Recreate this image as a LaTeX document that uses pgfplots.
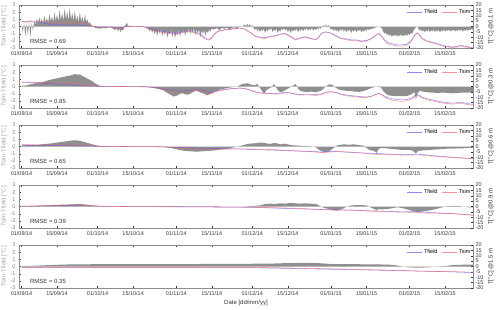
\documentclass[border=0pt]{standalone}
\usepackage{pgfplots}
\pgfplotsset{compat=1.18}
\usepackage{fontspec}
\setmainfont{Liberation Sans}
\definecolor{areagray}{gray}{0.56}
\definecolor{darklab}{gray}{0.2}
\definecolor{midlab}{gray}{0.5}
\definecolor{lightlab}{gray}{0.65}
\definecolor{framecol}{gray}{0.55}
\definecolor{tfield}{RGB}{90,90,255}
\definecolor{tsim}{RGB}{255,100,100}
\newcommand{\tfont}{\fontsize{5.5}{6}\selectfont}
\newcommand{\lfont}{\fontsize{6}{7}\selectfont}
\pgfplotsset{
  base/.style={scale only axis, width=454bp, height=43bp, xmin=-1, xmax=178,
    xtick={0,14,30,44,61,75,91,105,122,136,153,167},
    tick align=inside, major tick length=2bp,
    tick label style={font=\tfont},
    /pgf/number format/assume math mode=true,
    every tick/.style={darklab, line width=0.3pt},
    axis line style={framecol, line width=0.4pt},
  },
  leftax/.style={base, ymin=-3, ymax=3, ytick={-3,-2,-1,0,1,2,3},
    xtick pos=both, ytick pos=left,
    xticklabels={01/09/14,15/09/14,01/10/14,15/10/14,01/11/14,15/11/14,01/12/14,15/12/14,01/01/15,15/01/15,01/02/15,15/02/15},
    xticklabel style={text=darklab},
    yticklabel style={text=midlab},
    ylabel={Tsim-Tfield [°C]},
    ylabel style={text=lightlab, font=\lfont, yshift=-3bp},
  },
  rightax/.style={base, ymin=-20, ymax=20, ytick={-20,-15,...,20},
    axis y line*=right, axis x line=none, xticklabels={},
    yticklabel style={text=darklab, xshift=-1bp},
    ylabel style={text=darklab, font=\lfont, yshift=2bp},
    legend style={draw=none, fill=none, at={(1.0,0.95)}, anchor=north east,
      font=\tfont, legend columns=2, inner sep=0.5bp,
      /tikz/every even column/.append style={column sep=2bp}},
    legend image code/.code={\draw[#1] (0bp,0bp) -- (15bp,0bp);},
  },
  fld/.style={tfield, opacity=0.7, line width=0.55pt, no marks},
  sim/.style={tsim, opacity=0.7, line width=0.55pt, no marks},
  area/.style={fill=areagray, draw=none, no marks},
}
\begin{document}
\begin{tikzpicture}
%================ Panel 1 (0.1 m)
\begin{axis}[leftax, at={(0,0)}]
\addplot[area] coordinates {(0,0.3)(0.5,-0.8)(1,0.5)(1.5,-1.4)(2,0.4)(2.5,-1.2)(3,0.6)(3.5,-1.5)(4,0.5)(4.5,-0.6)(5,0.7)
(5.5,0.3)(6,1.0)(6.5,0.4)(7,1.3)(7.5,0.5)(8,1.1)(8.5,0.4)(9,1.5)(9.5,0.6)(10,1.2)(10.5,0.5)(11,1.8)(11.5,0.7)(12,1.4)(12.5,0.6)(13,2.0)(13.5,0.8)(14,1.6)(14.5,0.7)(15,2.3)(15.5,0.9)(16,1.9)(16.5,0.8)(17,2.5)(17.5,1.0)(18,2.1)(18.5,0.8)(19,2.6)(19.5,0.9)(20,1.9)(20.5,0.7)(21,2.2)(21.5,0.8)(22,1.5)(22.5,0.6)(23,2.0)(23.5,0.7)(24,1.4)(24.5,0.5)(25,1.7)(25.5,0.6)(26,1.0)(26.5,0.4)(27,0.6)(27.5,0.2)(28,0.1)
(29,-0.2)(30,-0.25)(31,-0.3)(32,-0.2)(33,-0.25)(34,-0.15)(35,-0.1)(36,-0.3)(37,-0.5)(37.5,-0.2)(38,-0.7)(38.5,-0.3)(39,-0.8)(39.5,-0.4)(40,-0.6)(40.5,-0.1)(41,0.2)(41.5,0.5)(42,0.1)(43,0.05)(44,0.0)(46,0.0)(48,-0.05)(49,-0.1)
(50,-0.3)(50.5,-0.7)(51,-0.3)(51.5,-0.9)(52,-0.4)(52.5,-1.1)(53,-0.5)(53.5,-1.3)(54,-0.5)(54.5,-1.0)(55,-0.4)(55.5,-1.4)(56,-0.6)(56.5,-1.2)(57,-0.5)(57.5,-1.6)(58,-0.7)(58.5,-1.1)(59,-0.5)(59.5,-1.5)(60,-0.6)(60.5,-1.7)(61,-0.7)(61.5,-1.2)(62,-0.5)(62.5,-1.4)(63,-0.6)(63.5,-1.0)(64,-0.4)(64.5,-1.3)(65,-0.5)(65.5,-0.9)(66,-0.3)(66.5,-1.1)(67,-0.4)(67.5,-0.8)(68,-0.3)(68.5,-1.2)(69,-0.5)(69.5,-0.9)(70,-0.4)(70.5,-1.5)(71,-0.6)(71.5,-1.0)(72,-0.5)(72.5,-1.3)(73,-0.6)(73.5,-0.9)(74,-0.4)(74.5,-0.7)(75,-0.3)
(76,-0.4)(77,-0.2)(78,-0.5)(79,-0.2)(80,-0.3)(81,-0.15)(82,-0.4)(83,-0.2)(84,-0.1)(85,-0.3)(86,0.1)(87,-0.1)(88,0.3)(88.5,0.0)(89,0.4)(89.5,0.1)(90,0.3)(90.5,0.0)(91,0.2)(91.5,-0.2)
(92,-0.5)(92.5,-0.2)(93,-0.7)(93.5,-0.3)(94,-0.8)(94.5,-0.4)(95,-0.6)(95.5,-0.3)(96,-0.9)(96.5,-0.4)(97,-0.7)(97.5,-0.3)(98,-0.5)(98.5,-0.2)(99,-0.8)(99.5,-0.4)(100,-0.6)(100.5,-0.3)(101,-0.9)(101.5,-0.5)(102,-0.7)(102.5,-0.3)(103,-0.5)(103.5,-0.2)(104,-0.6)(104.5,-0.3)(105,-0.8)(105.5,-0.4)(106,-0.9)(106.5,-0.5)(107,-0.7)(107.5,-0.4)(108,-0.6)(108.5,-0.3)(109,-0.8)(109.5,-0.4)(110,-0.6)(110.5,-0.3)(111,-0.7)(111.5,-0.3)(112,-0.5)(112.5,-0.2)(113,-0.6)(113.5,-0.3)(114,-0.5)(114.5,-0.2)(115,-0.6)(115.5,-0.3)(116,-0.5)(116.5,-0.2)(117,-0.4)(117.5,-0.1)(118,-0.3)(118.5,0.0)(119,0.2)(119.5,-0.1)(120,0.3)(120.5,0.0)(121,0.2)(121.5,-0.2)(122,-0.4)
(122.5,-0.3)(123,-0.6)(123.5,-0.3)(124,-0.7)(124.5,-0.4)(125,-0.8)(125.5,-0.4)(126,-0.6)(126.5,-0.3)(127,-0.7)(127.5,-0.4)(128,-0.8)(128.5,-0.5)(129,-0.6)(129.5,-0.4)(130,-0.9)(130.5,-0.5)(131,-0.7)(131.5,-0.4)(132,-0.8)(132.5,-0.5)(133,-0.6)(133.5,-0.4)(134,-0.8)(134.5,-0.5)(135,-0.7)(135.5,-0.4)(136,-0.6)(136.5,-0.3)(137,-0.5)(137.5,-0.3)(138,-0.4)(138.5,-0.2)(139,-0.3)(139.5,-0.1)(140,-0.1)(141,0.0)(142,-0.2)(142.5,-0.6)
(143,-1.0)(143.5,-0.8)(144,-1.2)(144.5,-1.0)(145,-1.3)(145.5,-1.1)(146,-1.4)(146.5,-1.2)(147,-1.3)(147.5,-1.1)(148,-1.4)(148.5,-1.2)(149,-1.3)(149.5,-1.1)(150,-1.4)(150.5,-1.2)(151,-1.3)(151.5,-1.1)(152,-1.3)(152.5,-1.0)(153,-1.2)(153.5,-0.9)(154,-1.0)(154.5,-0.6)(155,-0.3)(155.5,-0.1)(156,0.0)(156.5,-0.3)
(157,-0.6)(157.5,-0.4)(158,-0.7)(158.5,-0.5)(159,-0.8)(159.5,-0.5)(160,-0.7)(160.5,-0.4)(161,-0.8)(161.5,-0.5)(162,-0.7)(162.5,-0.4)(163,-0.8)(163.5,-0.5)(164,-0.7)(164.5,-0.5)(165,-0.8)(165.5,-0.5)(166,-0.7)(166.5,-0.4)(167,-0.7)(167.5,-0.5)(168,-0.6)(168.5,-0.4)(169,-0.7)(169.5,-0.5)(170,-0.6)(170.5,-0.4)(171,-0.7)(171.5,-0.5)(172,-0.6)(172.5,-0.4)(173,-0.6)(173.5,-0.4)(174,-0.7)(174.5,-0.5)(175,-0.6)(175.5,-0.4)(176,-0.6)(176.5,-0.4)(177,-0.5)(177.5,-0.3)(178,-0.5)} \closedcycle;
\node[anchor=west, font=\lfont, text=darklab] at (axis cs:2,-2.1) {RMSE = 0.69};
\end{axis}
\begin{axis}[rightax, at={(0,0)}, ylabel={T[°C] @0.1 m}]
\addplot[fld] coordinates {(0,4.5)(1,5.0)(2,4.2)(3,5.2)(4,4.5)(5,4.0)(6,4.5)(7,3.8)(8,4.0)(9,3.0)(10,2.8)(11,2.0)(12,2.5)(13,1.8)(14,2.0)(15,1.5)(16,2.0)(17,1.2)(18,1.8)(19,1.0)(20,1.5)(21,1.2)(22,1.8)(23,1.0)(24,1.3)(25,0.8)(26,1.0)(27,0.5)(28,0.2)(29,0.0)(30,-0.3)(32,-0.5)(34,-0.3)(36,-0.5)(38,-1.0)(39,-1.5)(40,-0.8)(41,0.2)(42,0.3)(44,0.1)(46,0.0)(48,-0.2)(50,-1.5)(52,-3.0)(54,-4.0)(56,-4.5)(58,-5.5)(60,-6.0)(61,-6.5)(62,-5.5)(63,-5.0)(64,-4.5)(66,-4.0)(68,-5.0)(70,-6.5)(71,-8.0)(72,-10.0)(73,-11.5)(74,-12.0)(75,-10.5)(76,-7.0)(77,-5.0)(78,-4.0)(80,-3.0)(82,-2.5)(84,-2.0)(86,-1.5)(88,-2.5)(90,-5.5)(92,-8.5)(94,-10.0)(96,-10.5)(98,-9.0)(100,-8.5)(102,-7.0)(104,-6.5)(106,-9.0)(108,-12.0)(110,-10.5)(112,-9.5)(114,-11.0)(116,-12.0)(117,-10.5)(118,-7.0)(119,-5.5)(120,-5.2)(122,-6.0)(124,-8.5)(126,-11.0)(128,-11.5)(130,-12.5)(132,-12.5)(134,-13.5)(136,-13.0)(138,-11.0)(140,-7.5)(141,-6.5)(142,-9.0)(143,-12.0)(144,-14.5)(146,-16.0)(148,-17.0)(150,-17.0)(152,-16.5)(154,-12.0)(155,-8.0)(156,-6.0)(157,-8.0)(158,-11.0)(160,-13.5)(162,-14.5)(164,-16.0)(166,-17.5)(168,-18.5)(170,-19.0)(172,-18.5)(173,-17.5)(174,-18.0)(176,-19.0)(178,-19.5)};
\addlegendentry{Tfield}
\addplot[sim] coordinates {(0,4.8)(1,4.5)(2,3.8)(3,4.8)(4,5.2)(5,4.8)(6,5.5)(7,5.0)(8,5.2)(9,4.5)(10,4.2)(11,3.8)(12,4.2)(13,3.5)(14,4.0)(15,3.8)(16,4.3)(17,3.5)(18,4.0)(19,3.3)(20,3.6)(21,3.0)(22,3.4)(23,2.8)(24,3.0)(25,2.2)(26,1.8)(27,1.0)(28,0.3)(29,-0.2)(30,-0.55)(32,-0.75)(34,-0.5)(36,-0.8)(38,-1.5)(39,-2.1)(40,-1.3)(41,0.4)(42,0.4)(44,0.1)(46,0.0)(48,-0.25)(50,-2.0)(52,-3.8)(54,-4.8)(56,-5.4)(58,-6.5)(60,-7.1)(61,-7.4)(62,-6.4)(63,-5.8)(64,-5.3)(66,-4.7)(68,-5.7)(70,-7.4)(71,-8.8)(72,-10.9)(73,-12.3)(74,-12.6)(75,-10.9)(76,-7.4)(77,-5.3)(78,-4.4)(80,-3.3)(82,-2.8)(84,-2.2)(86,-1.5)(88,-2.3)(90,-5.3)(92,-9.0)(94,-10.6)(96,-11.2)(98,-9.4)(100,-9.0)(102,-7.6)(104,-7.0)(106,-9.7)(108,-12.5)(110,-11.0)(112,-9.9)(114,-11.4)(116,-12.4)(117,-10.8)(118,-7.2)(119,-5.4)(120,-5.0)(122,-6.4)(124,-9.1)(126,-11.5)(128,-12.2)(130,-13.2)(132,-13.2)(134,-14.2)(136,-13.5)(138,-11.3)(140,-7.6)(141,-6.5)(142,-9.3)(143,-13.0)(144,-15.7)(146,-17.3)(148,-18.3)(150,-18.3)(152,-17.7)(154,-12.9)(155,-8.4)(156,-6.0)(157,-8.5)(158,-11.7)(160,-14.1)(162,-15.2)(164,-16.7)(166,-18.1)(168,-19.0)(170,-19.6)(172,-19.0)(173,-18.0)(174,-18.6)(176,-19.5)(178,-19.9)};
\addlegendentry{Tsim}
\end{axis}
%================ Panel 2 (0.3 m)
\begin{axis}[leftax, at={(0,-60bp)}]
\addplot[area] coordinates {(0,0.1)(2,0.15)(4,0.35)(6,0.5)(8,0.6)(10,0.8)(12,1.0)(14,1.15)(16,1.3)(18,1.45)(20,1.6)(21,1.75)(22,1.65)(23,1.7)(24,1.45)(25,1.3)(26,1.1)(27,0.9)(28,0.7)(29,0.45)(30,0.25)(31,0.1)(32,0.05)(35,0.02)(40,0.0)(45,-0.02)(48,-0.05)(50,-0.1)(52,-0.2)(54,-0.35)(56,-0.55)(57,-0.8)(58,-1.0)(59,-1.2)(60,-1.4)(61,-1.3)(62,-1.1)(63,-0.95)(64,-1.0)(65,-1.15)(66,-1.1)(67,-0.9)(68,-0.7)(69,-0.6)(70,-0.75)(71,-0.9)(72,-1.0)(73,-1.25)(74,-1.1)(75,-0.9)(76,-0.7)(77,-0.6)(78,-0.45)(80,-0.3)(82,-0.15)(84,-0.05)(85,0.0)(86,0.15)(87,0.35)(88,0.4)(89,0.45)(90,0.35)(91,0.2)
(92,0.2)(93,0.35)(94,-0.2)(95,-0.7)(95.7,-1.0)(96.5,-0.5)(97.5,-0.3)(98.5,-0.1)(99.6,0.35)(100.5,-0.2)(101,-0.5)(102,-0.8)(103,-0.7)(104,-0.5)(105,-0.3)(106,-0.1)(107,0.1)(108,0.35)(108.8,0.0)(109,-0.3)(110,-0.6)(111,-0.7)(112,-0.75)(113,-0.8)(114,-0.7)(115,-0.75)(116,-0.8)(117,-0.7)(118,-0.6)(119,-0.3)(120,0.0)(121,0.25)(122,0.3)(123,0.1)(124,-0.2)(125,-0.4)(126,-0.5)(127,-0.55)(128,-0.6)(129,-0.65)(130,-0.6)(131,-0.7)(132,-0.7)(133,-0.75)(134,-0.7)(135,-0.6)(136,-0.5)(137,-0.35)(138,-0.2)(139,-0.1)(140,0.0)(141,0.05)(142,-0.3)(143,-0.8)(144,-1.1)(145,-1.25)(146,-1.3)(147,-1.3)(148,-1.35)(149,-1.3)(150,-1.35)(151,-1.35)(152,-1.3)(153,-1.2)(154,-1.0)(155,-0.8)(155.5,-1.8)(156,-1.0)(157,-0.6)(158,-0.7)(160,-0.8)(162,-0.85)(164,-0.9)(166,-0.85)(168,-0.9)(170,-0.95)(172,-0.9)(174,-0.85)(176,-0.85)(178,-0.8)} \closedcycle;
\node[anchor=west, font=\lfont, text=darklab] at (axis cs:2,-2.1) {RMSE = 0.85};
\end{axis}
\begin{axis}[rightax, at={(0,-60bp)}, ylabel={T[°C] @0.3 m}]
\addplot[fld] coordinates {(0,4.0)(5,3.5)(10,2.8)(15,2.0)(20,1.3)(25,0.6)(30,0.2)(35,0.05)(40,0.0)(45,-0.1)(50,-0.3)(54,-1.2)(56,-2.0)(58,-3.0)(60,-4.0)(62,-4.2)(64,-4.0)(66,-3.8)(68,-3.2)(70,-3.0)(72,-3.8)(74,-5.5)(75,-5.8)(76,-4.5)(78,-3.5)(80,-2.8)(82,-2.2)(84,-1.8)(86,-1.5)(88,-2.0)(90,-3.5)(92,-5.0)(94,-5.8)(96,-6.2)(98,-6.5)(100,-6.8)(102,-6.0)(104,-5.5)(106,-6.0)(108,-7.2)(110,-7.5)(112,-7.0)(114,-7.2)(116,-7.5)(118,-7.0)(120,-5.5)(122,-5.0)(124,-5.5)(126,-7.0)(128,-8.0)(130,-8.5)(132,-9.0)(134,-9.5)(136,-9.8)(138,-9.0)(140,-7.0)(141,-6.5)(142,-7.5)(144,-10.0)(146,-11.5)(148,-12.0)(150,-12.5)(152,-12.0)(154,-10.5)(155,-8.5)(156,-7.5)(157,-8.5)(158,-10.0)(160,-11.5)(162,-12.5)(164,-13.5)(166,-14.5)(168,-15.0)(170,-15.5)(172,-15.0)(174,-15.0)(176,-16.0)(178,-16.5)};
\addlegendentry{Tfield}
\addplot[sim] coordinates {(0,4.1)(5,4.0)(10,3.6)(15,3.2)(20,2.9)(25,1.9)(30,0.45)(35,0.07)(40,0.0)(45,-0.12)(50,-0.4)(54,-1.55)(56,-2.55)(58,-4.0)(60,-5.4)(62,-5.3)(64,-5.0)(66,-4.9)(68,-3.9)(70,-3.75)(72,-4.8)(74,-6.6)(75,-6.7)(76,-5.2)(78,-3.95)(80,-3.1)(82,-2.35)(84,-1.85)(86,-1.35)(88,-1.6)(90,-3.15)(92,-4.8)(94,-6.0)(96,-6.8)(98,-6.5)(100,-7.1)(102,-6.8)(104,-6.0)(106,-6.0)(108,-6.9)(110,-8.1)(112,-7.75)(114,-7.9)(116,-8.3)(118,-7.6)(120,-5.5)(122,-4.7)(124,-5.7)(126,-7.5)(128,-8.6)(130,-9.1)(132,-9.7)(134,-10.2)(136,-10.3)(138,-9.2)(140,-7.0)(141,-6.45)(142,-7.8)(144,-11.1)(146,-12.8)(148,-13.35)(150,-13.85)(152,-13.3)(154,-11.5)(155,-9.3)(156,-8.5)(157,-9.1)(158,-10.7)(160,-12.3)(162,-13.35)(164,-14.4)(166,-15.35)(168,-15.9)(170,-16.45)(172,-15.9)(174,-15.85)(176,-16.85)(178,-17.3)};
\addlegendentry{Tsim}
\end{axis}
%================ Panel 3 (0.6 m)
\begin{axis}[leftax, at={(0,-120bp)}]
\addplot[area] coordinates {(0,0.15)(4,0.2)(8,0.3)(12,0.45)(16,0.65)(18,0.75)(20,0.85)(22,0.85)(24,0.7)(26,0.5)(28,0.3)(30,0.12)(32,0.05)(40,0.0)(50,0.0)(56,-0.05)(58,-0.15)(60,-0.3)(62,-0.45)(64,-0.6)(66,-0.65)(68,-0.7)(70,-0.7)(72,-0.65)(74,-0.6)(76,-0.55)(78,-0.45)(80,-0.35)(82,-0.25)(84,-0.1)(86,0.05)(88,0.25)(89,0.35)(90,0.4)(92,0.45)(94,0.55)(96,0.5)(97,0.4)(98,0.35)(99,0.45)(100,0.5)(101,0.4)(102,0.3)(103,0.35)(104,0.4)(105,0.3)(106,0.2)(108,0.15)(110,0.1)(112,0.1)(114,0.05)(116,-0.1)(117,-0.4)(118,-0.6)(119,-0.7)(120,-0.75)(121,-0.7)(122,-0.5)(123,-0.2)(124,0.05)(125,0.2)(127,0.3)(129,0.25)(131,0.3)(133,0.2)(135,0.1)(136,-0.2)(137,-0.45)(138,-0.55)(139,-0.6)(140,-0.9)(140.5,-0.5)(141,-0.3)(142,-0.2)(144,-0.25)(146,-0.35)(148,-0.4)(150,-0.5)(152,-0.45)(154,-0.55)(155,-0.8)(155.5,-1.0)(156,-0.7)(157,-0.6)(158,-0.55)(160,-0.5)(162,-0.45)(164,-0.4)(166,-0.35)(168,-0.3)(170,-0.3)(172,-0.25)(174,-0.25)(176,-0.2)(178,-0.2)} \closedcycle;
\node[anchor=west, font=\lfont, text=darklab] at (axis cs:2,-2.1) {RMSE = 0.65};
\end{axis}
\begin{axis}[rightax, at={(0,-120bp)}, ylabel={T[°C] @0.6 m}]
\addplot[fld] coordinates {(0,1.2)(10,1.0)(20,0.7)(30,0.2)(40,0.0)(50,-0.1)(56,-0.3)(60,-0.8)(66,-1.2)(70,-1.5)(76,-1.8)(80,-2.0)(86,-2.3)(92,-2.8)(100,-3.5)(106,-4.0)(112,-4.5)(118,-5.0)(120,-4.8)(122,-4.5)(126,-5.0)(130,-5.5)(136,-6.2)(140,-6.5)(144,-7.0)(150,-7.5)(154,-7.5)(156,-7.0)(158,-7.5)(162,-8.5)(166,-9.2)(170,-10.0)(175,-10.8)(178,-11.1)};
\addlegendentry{Tfield}
\addplot[sim] coordinates {(0,1.8)(10,1.4)(20,1.5)(26,1.2)(30,0.35)(40,0.0)(50,-0.1)(56,-0.35)(60,-1.1)(66,-1.85)(70,-2.2)(76,-2.35)(80,-2.35)(86,-2.25)(92,-2.35)(100,-3.0)(106,-3.8)(112,-4.4)(118,-5.6)(120,-5.55)(122,-5.0)(126,-4.75)(130,-5.2)(136,-6.4)(140,-7.4)(144,-7.25)(150,-8.0)(154,-8.05)(156,-7.7)(158,-8.05)(162,-8.95)(166,-9.55)(170,-10.3)(175,-11.0)(178,-11.3)};
\addlegendentry{Tsim}
\end{axis}
%================ Panel 4 (0.9 m)
\begin{axis}[leftax, at={(0,-180bp)}]
\addplot[area] coordinates {(0,0.02)(5,0.05)(8,0.1)(12,0.2)(16,0.25)(20,0.3)(23,0.35)(26,0.25)(28,0.12)(30,0.03)(35,0.0)(50,-0.03)(60,-0.05)(70,-0.05)(80,-0.03)(88,0.0)(92,0.1)(94,0.15)(96,0.35)(98,0.4)(100,0.35)(102,0.45)(104,0.4)(106,0.5)(108,0.45)(110,0.4)(112,0.45)(114,0.4)(116,0.35)(117,0.2)(118,0.0)(119,-0.15)(121,-0.35)(123,-0.5)(124,-0.55)(125,-0.5)(126,-0.4)(127,-0.25)(128,-0.05)(129,0.05)(130,0.15)(132,0.2)(134,0.2)(136,0.15)(137,0.0)(138,-0.2)(139,-0.35)(140,-0.5)(141,-0.35)(142,-0.4)(144,-0.35)(146,-0.25)(148,-0.1)(150,-0.2)(152,-0.4)(154,-0.6)(156,-0.75)(158,-0.7)(160,-0.6)(162,-0.45)(164,-0.3)(166,-0.1)(168,0.05)(170,0.1)(172,0.1)(174,0.0)(176,-0.1)(178,-0.15)} \closedcycle;
\node[anchor=west, font=\lfont, text=darklab] at (axis cs:2,-2.1) {RMSE = 0.39};
\end{axis}
\begin{axis}[rightax, at={(0,-180bp)}, ylabel={T[°C] @0.9 m}]
\addplot[fld] coordinates {(0,0.2)(10,0.6)(20,1.0)(28,0.6)(32,0.2)(40,0.0)(60,-0.2)(80,-0.5)(92,-0.8)(100,-1.5)(110,-2.2)(118,-2.8)(124,-3.0)(130,-3.4)(140,-4.2)(150,-5.0)(154,-4.8)(156,-4.7)(160,-5.5)(166,-6.2)(172,-7.0)(178,-8.0)};
\addlegendentry{Tfield}
\addplot[sim] coordinates {(0,0.2)(10,0.9)(20,1.4)(28,0.8)(32,0.2)(40,0.0)(60,-0.25)(80,-0.5)(92,-0.7)(100,-1.1)(110,-1.8)(118,-2.8)(124,-3.5)(130,-3.25)(140,-4.7)(150,-5.2)(154,-5.4)(156,-5.45)(160,-6.1)(166,-6.3)(172,-6.9)(178,-8.15)};
\addlegendentry{Tsim}
\end{axis}
%================ Panel 5 (1.5 m)
\begin{axis}[leftax, at={(0,-240bp)}, xlabel={Date [dd/mm/yy]}, xlabel style={font=\lfont, text=darklab, yshift=2bp}]
\addplot[area] coordinates {(0,0.05)(3,0.08)(6,0.12)(10,0.18)(15,0.25)(20,0.3)(30,0.32)(40,0.33)(50,0.32)(60,0.33)(70,0.35)(80,0.35)(90,0.38)(95,0.4)(100,0.42)(105,0.48)(110,0.5)(115,0.5)(118,0.45)(122,0.35)(126,0.32)(130,0.35)(135,0.3)(140,0.3)(145,0.25)(148,0.15)(150,0.0)(152,-0.1)(155,-0.15)(158,-0.15)(161,-0.1)(163,0.0)(166,0.05)(168,0.1)(170,0.2)(174,0.25)(178,0.25)} \closedcycle;
\node[anchor=west, font=\lfont, text=darklab] at (axis cs:2,-2.1) {RMSE = 0.35};
\end{axis}
\begin{axis}[rightax, at={(0,-240bp)}, ylabel={T[°C] @1.5 m}]
\addplot[fld] coordinates {(0,-1.0)(30,-1.0)(60,-1.0)(90,-1.1)(100,-1.5)(118,-2.4)(130,-2.9)(144,-3.6)(160,-4.4)(170,-5.0)(178,-5.6)};
\addlegendentry{Tfield}
\addplot[sim] coordinates {(0,-0.9)(30,-0.7)(60,-0.7)(90,-0.75)(100,-1.1)(118,-1.9)(130,-2.55)(144,-3.35)(160,-4.5)(170,-4.8)(178,-5.35)};
\addlegendentry{Tsim}
\end{axis}
\pgfresetboundingbox
\useasboundingbox (-19bp,-262bp) rectangle (481bp,48bp);
\end{tikzpicture}
\end{document}
